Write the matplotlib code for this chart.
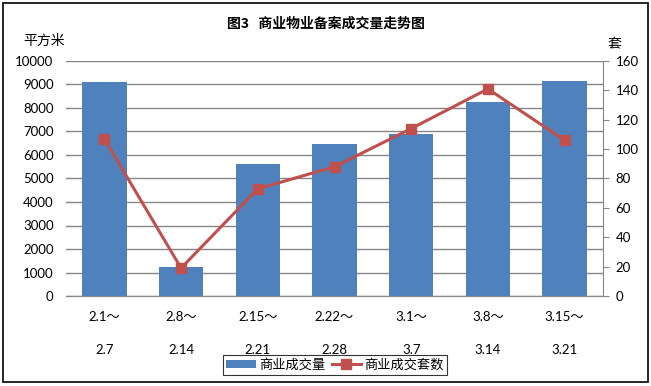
import numpy as np
import matplotlib
matplotlib.use('Agg')
from matplotlib import pyplot as plt
from matplotlib.patches import Rectangle

plt.rcParams['font.family'] = ['Lato', 'Noto Sans CJK SC']

### data
periods = ['2.1～\n\n2.7', '2.8～\n\n2.14', '2.15～\n\n2.21', '2.22～\n\n2.28',
           '3.1～\n\n3.7', '3.8～\n\n3.14', '3.15～\n\n3.21']
area = [9100, 1250, 5600, 6470, 6890, 8250, 9150]     # 商业成交量 (平方米)
units = [107, 19, 73, 88, 114, 141, 106]               # 商业成交套数 (套)

bar_color = '#4F81BD'
line_color = '#C0504D'
grid_color = '#868686'

fig = plt.figure(figsize=(6.51, 3.86), dpi=100)
ax = fig.add_axes([66/651, 1-296/386, (603-66)/651, (296-61)/386])
ax2 = ax.twinx()

x = np.arange(len(periods))
b = ax.bar(x, area, width=0.58, color=bar_color, label='商业成交量', zorder=2)
l, = ax2.plot(x, units, color=line_color, lw=2.2, marker='s', ms=7,
              label='商业成交套数', zorder=3)

ax.set_xlim(-0.5, len(periods)-0.5)
ax.set_ylim(0, 10000)
ax.set_yticks(np.arange(0, 10001, 1000))
ax2.set_ylim(0, 160)
ax2.set_yticks(np.arange(0, 161, 20))
ax.yaxis.grid(True, color=grid_color, lw=1)
ax.set_axisbelow(True)

for a in (ax, ax2):
    for s in ('top', 'left'):
        a.spines[s].set_visible(False)
    a.spines['bottom'].set_color(grid_color)
    a.spines['right'].set_color(grid_color)
ax.spines['right'].set_visible(False)

ax.tick_params(axis='y', length=0, pad=9, labelsize=9.5)
ax2.tick_params(axis='y', length=4, color=grid_color, pad=5, labelsize=9.5)
ax.set_xticks(x)
ax.set_xticklabels(periods, fontsize=9.5, linespacing=1.45)
ax.tick_params(axis='x', length=0, pad=11)

fig.text(0.5, 1-24/386, '图3   商业物业备案成交量走势图', ha='center', va='center',
         fontsize=10, fontweight='bold', family=['Noto Sans CJK SC'])
fig.text(44/651, 1-41/386, '平方米', ha='center', va='center', fontsize=10,
         family=['Noto Sans CJK SC'])
fig.text(614/651, 1-44/386, '套', ha='center', va='center', fontsize=10,
         family=['Noto Sans CJK SC'])

leg = fig.legend([b, l], ['商业成交量', '商业成交套数'], loc='center',
                 bbox_to_anchor=(335/651, 1-365/386), ncol=2, frameon=True,
                 fancybox=False, edgecolor='black',
                 handlelength=2.2, handleheight=0.5, handletextpad=0.25,
                 columnspacing=0.5, borderpad=0.25, borderaxespad=0,
                 prop={'family': ['Noto Sans CJK SC'], 'size': 9.5})
leg.get_frame().set_linewidth(0.8)

fig.patches.append(Rectangle((3/651, 1-382/386), 645/651, 379/386, transform=fig.transFigure,
                             fill=False, edgecolor='black', lw=1.2))

plt.savefig('out.png', dpi=100)
